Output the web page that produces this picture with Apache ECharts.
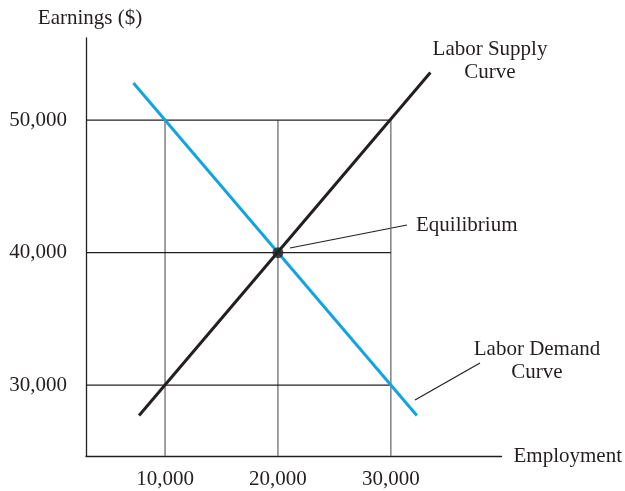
<!DOCTYPE html>
<html>
<head>
<meta charset="utf-8">
<script src="https://cdn.jsdelivr.net/npm/echarts@6/dist/echarts.min.js"></script>
<style>
  html, body { margin: 0; padding: 0; background: #fff; }
  #chart-container { width: 625px; height: 491px; }
</style>
</head>
<body>
<div id="chart-container"></div>
<script>
var dom = document.getElementById("chart-container");
var myChart = echarts.init(dom, null, { renderer: "canvas" });

// tick values
const employmentTicks = [10000, 20000, 30000];
const earningsTicks = [30000, 40000, 50000];

// curves: [employment, earnings]
const supplyCurve = [[7700, 27700], [33500, 53600]];
const demandCurve = [[7200, 52800], [32300, 27700]];
const equilibrium = [[20000, 40000]];

const xMin = 3000, xMax = 39800;
const yMin = 24650, yMax = 56200;

const ink = "#231f20";
const font = "Liberation Serif";

function fmt(v) {
  return v.toLocaleString("en-US");
}

// guide lines: verticals up to top tick, horizontals out to last tick
const guideSeries = [];
employmentTicks.forEach(function (x) {
  guideSeries.push({
    type: "line",
    data: [[x, yMin], [x, earningsTicks[earningsTicks.length - 1]]],
    symbol: "none",
    silent: true,
    z: 1,
    lineStyle: { color: "#6d6e70", width: 1.3 },
  });
});
earningsTicks.forEach(function (y) {
  guideSeries.push({
    type: "line",
    data: [[xMin, y], [employmentTicks[employmentTicks.length - 1], y]],
    symbol: "none",
    silent: true,
    z: 1,
    lineStyle: { color: ink, width: 1.1 },
  });
});

var option = {
  backgroundColor: "#ffffff",
  animation: false,
  textStyle: { fontFamily: font },
  grid: { left: 86, right: 122, top: 38, bottom: 35 },
  xAxis: {
    type: "value",
    min: xMin,
    max: xMax,
    name: "Employment",
    nameLocation: "end",
    nameGap: 12,
    nameTextStyle: { color: ink, fontSize: 21, fontFamily: font },
    axisLine: { show: true, lineStyle: { color: ink, width: 1.3 } },
    axisTick: { show: false },
    splitLine: { show: false },
    axisLabel: {
      customValues: employmentTicks,
      color: ink,
      fontSize: 21,
      fontFamily: font,
      margin: 13,
      formatter: fmt,
    },
  },
  yAxis: {
    type: "value",
    min: yMin,
    max: yMax,
    name: "Earnings ($)",
    nameLocation: "end",
    nameGap: 9,
    nameTextStyle: { color: ink, fontSize: 21, fontFamily: font, padding: [0, 0, 0, 8] },
    axisLine: { show: true, lineStyle: { color: ink, width: 1.3 } },
    axisTick: { show: false },
    splitLine: { show: false },
    axisLabel: {
      customValues: earningsTicks,
      color: ink,
      fontSize: 21,
      fontFamily: font,
      margin: 19,
      formatter: fmt,
    },
  },
  series: guideSeries.concat([
    {
      name: "Labor Demand",
      type: "line",
      data: demandCurve,
      symbol: "none",
      z: 3,
      lineStyle: { color: "#13a4e0", width: 3 },
    },
    {
      name: "Labor Supply",
      type: "line",
      data: supplyCurve,
      symbol: "none",
      z: 4,
      lineStyle: { color: ink, width: 3 },
    },
    {
      name: "Equilibrium",
      type: "scatter",
      data: equilibrium,
      symbolSize: 11,
      z: 5,
      itemStyle: { color: ink },
    },
  ]),
  graphic: [
    {
      type: "text",
      x: 490,
      y: 61,
      style: {
        text: "Labor Supply\nCurve",
        fill: ink,
        font: "21px " + font,
        align: "center",
        verticalAlign: "middle",
        lineHeight: 23,
      },
    },
    {
      type: "line",
      shape: { x1: 290, y1: 248, x2: 407, y2: 225 },
      style: { stroke: ink, lineWidth: 1.2 },
    },
    {
      type: "text",
      x: 416,
      y: 225,
      style: {
        text: "Equilibrium",
        fill: ink,
        font: "21px " + font,
        verticalAlign: "middle",
      },
    },
    {
      type: "line",
      shape: { x1: 415, y1: 400, x2: 480, y2: 363 },
      style: { stroke: ink, lineWidth: 1.2 },
    },
    {
      type: "text",
      x: 537,
      y: 361,
      style: {
        text: "Labor Demand\nCurve",
        fill: ink,
        font: "21px " + font,
        align: "center",
        verticalAlign: "middle",
        lineHeight: 23,
      },
    },
  ],
};

myChart.setOption(option);
window.addEventListener("resize", myChart.resize);
</script>
</body>
</html>
